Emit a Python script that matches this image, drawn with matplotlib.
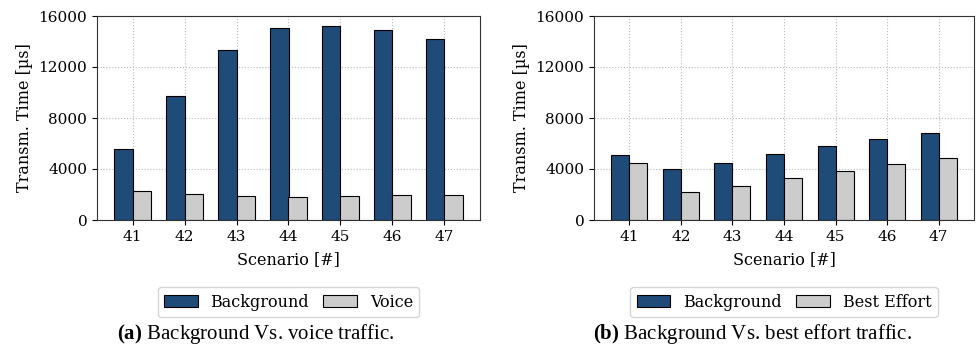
import numpy as np
import matplotlib.pyplot as plt

scenarios = [41, 42, 43, 44, 45, 46, 47]

# (a) background vs voice
bg_a = [5560, 9760, 13360, 15080, 15180, 14900, 14200]
voice = [2300, 2040, 1850, 1830, 1880, 1930, 1980]

# (b) background vs best effort
bg_b = [5060, 4020, 4490, 5170, 5790, 6390, 6860]
best_effort = [4440, 2190, 2660, 3290, 3840, 4390, 4830]

blue = '#1f4b78'
grey = '#cccccc'
width = 0.35

plt.rcParams.update({
    'font.family': 'DejaVu Serif',
    'font.size': 11,
    'axes.labelsize': 11.5,
    'xtick.labelsize': 11,
    'ytick.labelsize': 11,
    'legend.fontsize': 11.5,
    'mathtext.fontset': 'custom',
    'mathtext.rm': 'Liberation Serif',
    'mathtext.bf': 'Liberation Serif:bold',
})

fig = plt.figure(figsize=(9.78, 3.52), dpi=100)
ax1 = fig.add_axes([97 / 978, 1 - 220 / 352, 383 / 978, 204 / 352])
ax2 = fig.add_axes([594 / 978, 1 - 220 / 352, 380 / 978, 204 / 352])

panels = [
    (ax1, bg_a, voice, 'Voice', 'Background Vs. voice traffic.', '(a)', 256),
    (ax2, bg_b, best_effort, 'Best Effort', 'Background Vs. best effort traffic.', '(b)', 752),
]

x = np.array(scenarios)
for ax, first, second, name, caption, tag, cap_x in panels:
    ax.set_axisbelow(True)
    ax.grid(True, linestyle=':', color='#bbbbbb', linewidth=0.8)
    ax.bar(x - width / 2, first, width, color=blue, edgecolor='black', linewidth=0.8, label='Background')
    ax.bar(x + width / 2, second, width, color=grey, edgecolor='black', linewidth=0.8, label=name)
    ax.set_ylim(0, 16000)
    ax.set_yticks([0, 4000, 8000, 12000, 16000])
    ax.set_xticks(scenarios)
    ax.set_xlabel('Scenario [#]', labelpad=5)
    ax.set_ylabel('Transm. Time [µs]')
    for sp in ax.spines.values():
        sp.set_color('#333333')
    ax.legend(loc='upper center', bbox_to_anchor=(0.5, -0.29), ncol=2,
              handlelength=2.1, columnspacing=0.9, handletextpad=0.8,
              frameon=True, fancybox=True)
    fig.text(cap_x / 978, 1 - 334 / 352, r'$\mathbf{' + tag + '}$ ' + caption,
             ha='center', va='center', fontsize=15, family='Liberation Serif')

fig.savefig('out.png', dpi=100)
